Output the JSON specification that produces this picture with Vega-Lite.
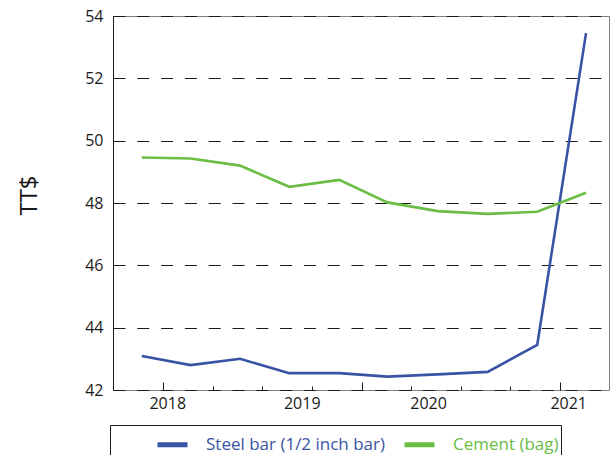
{
  "$schema": "https://vega.github.io/schema/vega-lite/v6.json",
  "width": 496,
  "height": 374,
  "autosize": {"type": "none"},
  "padding": {"left": 113, "top": 16, "right": 4, "bottom": 65},
  "config": {
    "font": "Open Sans",
    "view": {"stroke": "#7f7f7f", "strokeWidth": 1}
  },
  "data": {
    "values": [
      {"t": 2017.837, "v": 43.09, "series": "Steel bar (1/2 inch bar)"},
      {"t": 2018.207, "v": 42.80, "series": "Steel bar (1/2 inch bar)"},
      {"t": 2018.580, "v": 43.00, "series": "Steel bar (1/2 inch bar)"},
      {"t": 2018.953, "v": 42.54, "series": "Steel bar (1/2 inch bar)"},
      {"t": 2019.331, "v": 42.54, "series": "Steel bar (1/2 inch bar)"},
      {"t": 2019.694, "v": 42.43, "series": "Steel bar (1/2 inch bar)"},
      {"t": 2020.075, "v": 42.50, "series": "Steel bar (1/2 inch bar)"},
      {"t": 2020.453, "v": 42.58, "series": "Steel bar (1/2 inch bar)"},
      {"t": 2020.828, "v": 43.45, "series": "Steel bar (1/2 inch bar)"},
      {"t": 2021.197, "v": 53.45, "series": "Steel bar (1/2 inch bar)"},
      {"t": 2017.837, "v": 49.46, "series": "Cement (bag)"},
      {"t": 2018.207, "v": 49.43, "series": "Cement (bag)"},
      {"t": 2018.580, "v": 49.20, "series": "Cement (bag)"},
      {"t": 2018.953, "v": 48.52, "series": "Cement (bag)"},
      {"t": 2019.331, "v": 48.74, "series": "Cement (bag)"},
      {"t": 2019.694, "v": 48.02, "series": "Cement (bag)"},
      {"t": 2020.075, "v": 47.74, "series": "Cement (bag)"},
      {"t": 2020.453, "v": 47.65, "series": "Cement (bag)"},
      {"t": 2020.828, "v": 47.72, "series": "Cement (bag)"},
      {"t": 2021.197, "v": 48.33, "series": "Cement (bag)"}
    ]
  },
  "encoding": {
    "y": {
      "field": "v",
      "type": "quantitative",
      "scale": {"domain": [42, 54], "nice": false, "zero": false},
      "axis": {
        "values": [42, 44, 46, 48, 50, 52, 54],
        "grid": true,
        "gridDash": [12, 11.8],
        "gridColor": "#1a1a1a",
        "gridWidth": 1,
        "gridOpacity": 1,
        "domain": true,
        "domainColor": "#1a1a1a",
        "domainWidth": 1,
        "ticks": true,
        "tickSize": -6,
        "tickColor": "#1a1a1a",
        "labelFontSize": 16,
        "labelColor": "#1a1a1a",
        "labelPadding": 16,
        "title": "TT$",
        "titleFontSize": 24,
        "titleFontWeight": "normal",
        "titleColor": "#1a1a1a",
        "titleAngle": -90,
        "titleAlign": "center",
        "titleBaseline": "middle",
        "titleX": -84,
        "titleY": 179
      }
    }
  },
  "layer": [
    {
      "mark": {"type": "line", "strokeWidth": 2.6},
      "encoding": {
        "x": {
          "field": "t",
          "type": "quantitative",
          "scale": {"domain": [2017.6196, 2021.3706], "nice": false, "zero": false},
          "axis": {
            "orient": "bottom",
            "values": [2018, 2018.375, 2018.75, 2019.125, 2019.5, 2019.875, 2020.25, 2020.625, 2021],
            "labels": false,
            "domain": false,
            "grid": false,
            "ticks": true,
            "tickSize": -4,
            "tickColor": "#1a1a1a",
            "title": null
          }
        },
        "color": {
          "field": "series",
          "type": "nominal",
          "scale": {
            "domain": ["Steel bar (1/2 inch bar)", "Cement (bag)"],
            "range": ["#3953a4", "#6abd45"]
          },
          "legend": {
            "orient": "none",
            "legendX": -3,
            "legendY": 409,
            "direction": "horizontal",
            "title": " ",
            "titleOrient": "left",
            "titleFontSize": 10,
            "titlePadding": 43,
            "symbolType": "stroke",
            "symbolStrokeWidth": 5,
            "symbolSize": 900,
            "labelFontSize": 17,
            "labelLimit": 400,
            "labelOffset": 16,
            "columnPadding": 8,
            "padding": 2,
            "strokeColor": "#1a1a1a",
            "labelExpr": "datum.label == 'Cement (bag)' ? datum.label + '\u00a0\u00a0\u00a0\u00a0\u00a0\u00a0\u00a0\u00a0\u00a0' : datum.label",
            "encode": {
              "labels": {"update": {"fill": {"scale": "color", "field": "value"}}}
            }
          }
        }
      }
    },
    {
      "mark": {"type": "point", "opacity": 0},
      "encoding": {
        "x": {
          "field": "t",
          "type": "quantitative",
          "axis": {
            "orient": "bottom",
            "values": [2018, 2019.5, 2021],
            "labels": false,
            "domain": false,
            "grid": false,
            "ticks": true,
            "tickSize": -8,
            "tickColor": "#1a1a1a",
            "title": null
          }
        }
      }
    },
    {
      "mark": {"type": "point", "opacity": 0},
      "encoding": {
        "x": {
          "field": "t",
          "type": "quantitative",
          "axis": {
            "orient": "bottom",
            "values": [2018.03, 2019.047, 2020.002, 2021.062],
            "labelExpr": "'' + floor(datum.value)",
            "labelFontSize": 16,
            "labelColor": "#1a1a1a",
            "labelPadding": 5,
            "domain": false,
            "grid": false,
            "ticks": false,
            "title": null
          }
        }
      }
    }
  ],
  "resolve": {"axis": {"x": "independent"}}
}
